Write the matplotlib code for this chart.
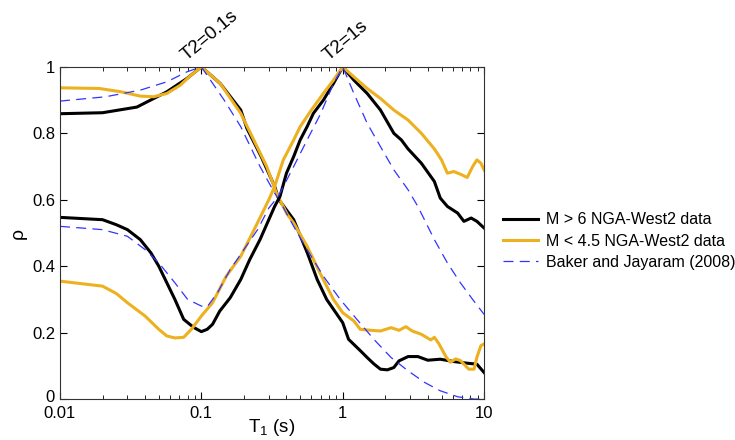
import numpy as np
import matplotlib
matplotlib.use("Agg")
import matplotlib.pyplot as plt
from matplotlib.transforms import ScaledTranslation

plt.rcParams['font.family'] = ['Liberation Sans', 'DejaVu Sans']
plt.rcParams['mathtext.fontset'] = 'custom'
plt.rcParams['mathtext.rm'] = 'Liberation Sans'
plt.rcParams['mathtext.it'] = 'Liberation Sans'

# ---- data (T1 in seconds, rho) ----
# T2 = 0.1 s
big_t2a_T = [0.01, 0.02, 0.035, 0.057, 0.079, 0.1, 0.136, 0.19, 0.21, 0.265, 0.33, 0.354, 0.45,
             0.562, 0.66, 0.77, 1.0, 1.1, 1.33, 1.49, 1.66, 1.85, 2.07, 2.3, 2.5, 2.9, 3.4, 4.0, 4.9,
             6.1, 7.6, 8.9, 10.0]
big_t2a_r = [0.859, 0.862, 0.879, 0.925, 0.965, 1.0, 0.95, 0.87, 0.815, 0.73, 0.64, 0.60, 0.54,
             0.44, 0.36, 0.30, 0.23, 0.18, 0.146, 0.125, 0.106, 0.09, 0.088, 0.095, 0.115, 0.128, 0.128,
             0.117, 0.12, 0.113, 0.108, 0.105, 0.08]

small_t2a_T = [0.01, 0.019, 0.027, 0.037, 0.046, 0.057, 0.071, 0.083, 0.1, 0.136, 0.19, 0.235, 0.29,
               0.34, 0.405, 0.45, 0.56, 0.69, 0.86, 1.0, 1.2, 1.33, 1.58, 1.85, 2.2, 2.5, 2.8, 3.1, 3.6,
               4.2, 4.45, 4.8, 5.4, 5.8, 6.3, 6.8, 7.8, 8.5, 8.9, 9.5, 10.0]
small_t2a_r = [0.937, 0.935, 0.925, 0.912, 0.91, 0.92, 0.945, 0.972, 1.0, 0.95, 0.86, 0.78, 0.70,
               0.62, 0.556, 0.53, 0.46, 0.38, 0.30, 0.26, 0.235, 0.21, 0.207, 0.205, 0.215, 0.207, 0.218,
               0.205, 0.195, 0.178, 0.186, 0.166, 0.126, 0.111, 0.121, 0.116, 0.09, 0.09, 0.126, 0.161,
               0.166]

bj_t2a_T = [0.01, 0.021, 0.037, 0.057, 0.079, 0.1, 0.145, 0.19, 0.26, 0.33, 0.36, 0.45, 0.56, 0.73,
            0.96, 1.26, 1.66, 2.2, 2.9, 3.8, 4.9, 6.5, 8.5, 10.0]
bj_t2a_r = [0.897, 0.91, 0.93, 0.955, 0.985, 1.0, 0.90, 0.82, 0.70, 0.62, 0.595, 0.52, 0.45, 0.37,
            0.30, 0.24, 0.18, 0.125, 0.085, 0.05, 0.025, 0.007, 0.0, 0.0]

# T2 = 1 s
big_t2b_T = [0.01, 0.02, 0.025, 0.03, 0.037, 0.044, 0.05, 0.057, 0.065, 0.075, 0.088, 0.1, 0.11, 0.12,
             0.135, 0.16, 0.19, 0.22, 0.26, 0.3, 0.33, 0.36, 0.4, 0.45, 0.5, 0.56, 0.62, 0.73, 0.86,
             1.0, 1.2, 1.49, 1.85, 2.3, 2.6, 2.9, 3.6, 4.45, 4.9, 5.5, 6.5, 7.2, 8.1, 8.9, 10.0]
big_t2b_r = [0.547, 0.54, 0.525, 0.51, 0.48, 0.44, 0.40, 0.35, 0.30, 0.24, 0.216, 0.203, 0.21, 0.225,
             0.265, 0.305, 0.36, 0.42, 0.48, 0.54, 0.58, 0.61, 0.68, 0.73, 0.78, 0.82, 0.86, 0.90, 0.95,
             1.0, 0.96, 0.92, 0.87, 0.80, 0.78, 0.753, 0.71, 0.655, 0.605, 0.58, 0.56, 0.535, 0.545,
             0.535, 0.515]

small_t2b_T = [0.01, 0.02, 0.025, 0.03, 0.04, 0.05, 0.057, 0.065, 0.075, 0.085, 0.1, 0.12, 0.15, 0.19,
               0.23, 0.27, 0.3, 0.33, 0.38, 0.45, 0.5, 0.6, 0.73, 0.86, 1.0, 1.2, 1.49, 1.85, 2.3, 2.9,
               3.6, 4.45, 5.0, 5.5, 6.1, 6.8, 7.6, 8.3, 8.9, 9.5, 10.0]
small_t2b_r = [0.355, 0.34, 0.318, 0.29, 0.25, 0.21, 0.19, 0.184, 0.186, 0.21, 0.25, 0.29, 0.37, 0.43,
               0.50, 0.56, 0.60, 0.64, 0.72, 0.78, 0.82, 0.87, 0.92, 0.96, 1.0, 0.97, 0.935, 0.905, 0.87,
               0.84, 0.80, 0.753, 0.72, 0.68, 0.685, 0.677, 0.667, 0.70, 0.72, 0.71, 0.69]

bj_t2b_T = [0.01, 0.02, 0.03, 0.04, 0.05, 0.065, 0.08, 0.1, 0.11, 0.13, 0.16, 0.2, 0.25, 0.3, 0.35,
            0.45, 0.56, 0.7, 0.86, 1.0, 1.2, 1.49, 1.85, 2.3, 2.9, 3.4, 4.45, 5.5, 6.8, 8.3, 10.0]
bj_t2b_r = [0.52, 0.51, 0.49, 0.45, 0.41, 0.35, 0.30, 0.28, 0.278, 0.32, 0.39, 0.45, 0.51, 0.575, 0.61,
            0.70, 0.78, 0.86, 0.95, 1.0, 0.92, 0.83, 0.76, 0.69, 0.63, 0.58, 0.48, 0.41, 0.35, 0.30,
            0.255]

t2_values = [0.1, 1.0]
t2_labels = ["T2=0.1s", "T2=1s"]

black = "black"
orange = "#EDB120"
blue = "#3333FF"

fig = plt.figure(figsize=(7.35, 4.40), dpi=100)
ax = fig.add_axes([0.0816, 0.093, 0.577, 0.755])

ax.plot(big_t2a_T, big_t2a_r, color=black, lw=2.2, label="M > 6 NGA-West2 data")
ax.plot(small_t2a_T, small_t2a_r, color=orange, lw=2.2, label="M < 4.5 NGA-West2 data")
ax.plot(bj_t2a_T, bj_t2a_r, color=blue, lw=0.9, dashes=(8, 5), label="Baker and Jayaram (2008)")
ax.plot(big_t2b_T, big_t2b_r, color=black, lw=2.2)
ax.plot(small_t2b_T, small_t2b_r, color=orange, lw=2.2)
ax.plot(bj_t2b_T, bj_t2b_r, color=blue, lw=0.9, dashes=(8, 5))

ax.set_xscale("log")
ax.set_xlim(0.01, 10)
ax.set_ylim(0, 1)
ax.set_xticks([0.01, 0.1, 1, 10])
ax.set_xticklabels(["0.01", "0.1", "1", "10"])
ax.set_yticks([0, 0.2, 0.4, 0.6, 0.8, 1.0])
ax.set_yticklabels(["0", "0.2", "0.4", "0.6", "0.8", "1"])
ax.tick_params(which="both", direction="in", top=True, right=True, labelsize=12)
ax.tick_params(which="major", length=5, width=0.8)
ax.tick_params(which="minor", length=3, width=0.6)
ax.tick_params(axis="x", pad=5)
for s in ax.spines.values():
    s.set_color("#333333")
    s.set_linewidth(0.8)

# nudge the "0" on the y axis up a touch so it clears "0.01"
lbl0 = ax.get_yticklabels()[0]
lbl0.set_transform(lbl0.get_transform() + ScaledTranslation(0, 3 / 100, fig.dpi_scale_trans))

ax.set_xlabel("T$_1$ (s)", fontsize=13.5, labelpad=-3)
ax.set_ylabel("ρ", fontsize=14, labelpad=4)

for t2, lab in zip(t2_values, t2_labels):
    ax.annotate(lab, xy=(t2, 1.0), xycoords=("data", "axes fraction"),
                xytext=(-12, 3), textcoords="offset pixels",
                rotation=40, ha="left", va="bottom", fontsize=13.5, rotation_mode="anchor")

ax.legend(loc="center left", bbox_to_anchor=(0.676, 0.452), bbox_transform=fig.transFigure,
          frameon=False, fontsize=11.5, handlelength=2.2, handletextpad=0.5, labelspacing=0.4,
          borderaxespad=0)

fig.savefig("out.png", dpi=100)
